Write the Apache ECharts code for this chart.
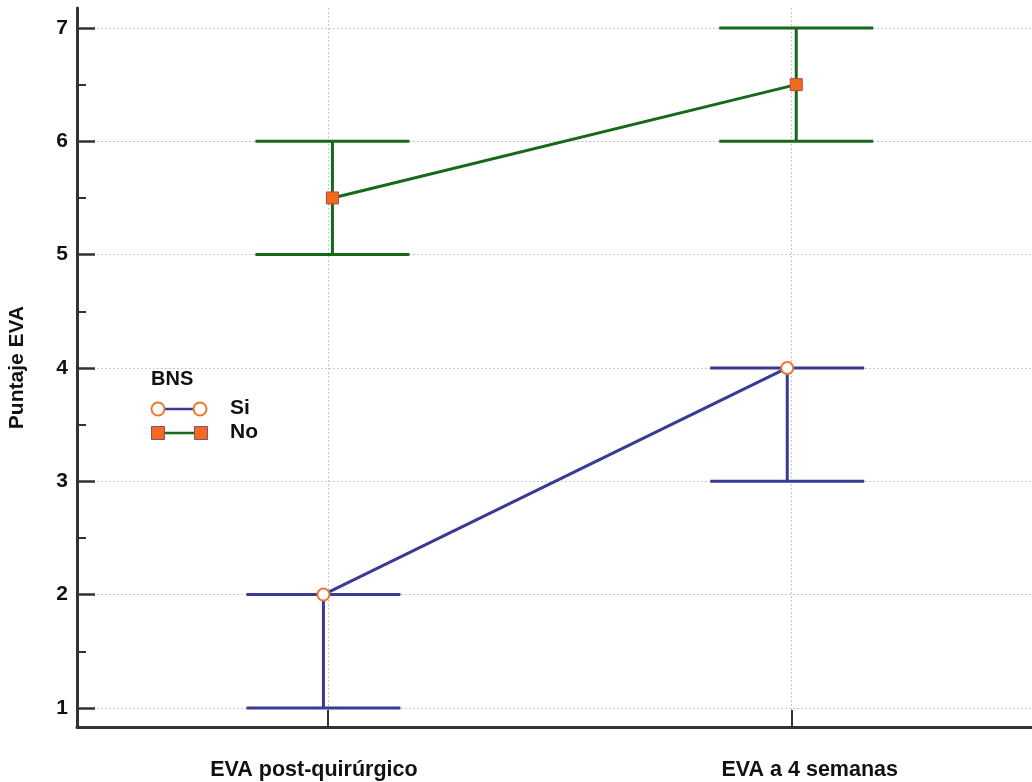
<!DOCTYPE html>
<html>
<head>
<meta charset="utf-8">
<script src="https://cdn.jsdelivr.net/npm/echarts@6/dist/echarts.min.js"></script>
<style>
html,body{margin:0;padding:0;background:#fff;}
#c{width:1032px;height:782px;}
</style>
</head>
<body>
<div id="c"></div>
<script>
// ---- data ----
const categories = ['EVA post-quirúrgico', 'EVA a 4 semanas'];
const seriesNames = ['Si', 'No'];
const siMean = [2, 4];
const siLow = [1, 3];
const siHigh = [2, 4];
const noMean = [5.5, 6.5];
const noLow = [5, 6];
const noHigh = [6, 7];
const yTickValues = [1, 2, 3, 4, 5, 6, 7];
const yMinorTickValues = [1.5, 2.5, 3.5, 4.5, 5.5, 6.5];
const yAxisName = 'Puntaje EVA';
const legendTitle = 'BNS';

// ---- styles ----
const FONT = '"Liberation Sans", Arial, sans-serif';
const SI_COLOR = '#3a3a94';
const NO_COLOR = '#17691a';
const MARK_ORANGE = '#f26a1c';
const AXIS_COLOR = '#333333';
const DODGE = 0.0097;   // horizontal shift of each group (in category units)
const CAP_HALF = 77;    // px

const catIdx = categories.map((_, i) => i);
function pts(means, off) { return catIdx.map(i => [i + off, means[i]]); }
function bars(lows, highs, off) { return catIdx.map(i => [i + off, lows[i], highs[i]]); }

function errRender(color) {
  return function (params, api) {
    const x = api.value(0);
    const lo = api.coord([x, api.value(1)]);
    const hi = api.coord([x, api.value(2)]);
    const st = { stroke: color, lineWidth: 3 };
    return {
      type: 'group',
      children: [
        { type: 'line', shape: { x1: lo[0], y1: lo[1], x2: hi[0], y2: hi[1] }, style: st },
        { type: 'line', shape: { x1: lo[0] - CAP_HALF, y1: lo[1], x2: lo[0] + CAP_HALF, y2: lo[1] }, style: st },
        { type: 'line', shape: { x1: hi[0] - CAP_HALF, y1: hi[1], x2: hi[0] + CAP_HALF, y2: hi[1] }, style: st }
      ]
    };
  };
}

const chart = echarts.init(document.getElementById('c'), null, { renderer: 'canvas' });
const gridDash = { color: '#c8c8c8', width: 1, type: [2, 2] };
const catLabelStyle = { color: '#111', fontWeight: 'bold', fontSize: 21.5, fontFamily: FONT };

chart.setOption({
  animation: false,
  backgroundColor: '#ffffff',
  textStyle: { fontFamily: FONT },
  grid: { left: 77, right: 0, top: 8, bottom: 55, containLabel: false, outerBoundsMode: 'none' },
  xAxis: {
    type: 'value',
    min: -0.541,
    max: 1.518,
    axisLine: { show: true, onZero: false, lineStyle: { color: AXIS_COLOR, width: 3 } },
    axisTick: { show: true, inside: true, length: 17, customValues: catIdx, lineStyle: { color: AXIS_COLOR, width: 2 } },
    axisLabel: {
      show: true, customValues: catIdx, margin: 32,
      formatter: v => {
        const i = Math.round(v);
        return categories[i] ? '{c' + i + '|' + categories[i] + '}' : '';
      },
      rich: {
        c0: Object.assign({ padding: [0, 28, 0, 0] }, catLabelStyle),
        c1: Object.assign({ padding: [0, 0, 0, 36] }, catLabelStyle)
      },
      color: '#111', fontWeight: 'bold', fontSize: 21.5, fontFamily: FONT
    },
    splitLine: { show: true, lineStyle: gridDash }
  },
  yAxis: [
    {
      type: 'value',
      min: 0.832,
      max: 7.176,
      name: yAxisName,
      nameLocation: 'middle',
      nameGap: 49,
      nameRotate: 90,
      nameMoveOverlap: false,
      nameTextStyle: { color: '#111', fontWeight: 'bold', fontSize: 21, fontFamily: FONT },
      axisLine: { show: true, onZero: false, lineStyle: { color: AXIS_COLOR, width: 3 } },
      axisTick: { show: true, inside: true, length: 18, customValues: yTickValues, lineStyle: { color: AXIS_COLOR, width: 2.5 } },
      axisLabel: { show: true, customValues: yTickValues, margin: 9, color: '#111', fontWeight: 'bold', fontSize: 21, fontFamily: FONT },
      splitLine: { show: true, lineStyle: gridDash }
    },
    {
      type: 'value',
      position: 'left',
      min: 0.832,
      max: 7.176,
      axisLine: { show: false, onZero: false },
      axisTick: { show: true, inside: true, length: 9, customValues: yMinorTickValues, lineStyle: { color: AXIS_COLOR, width: 2 } },
      axisLabel: { show: false },
      splitLine: { show: false }
    }
  ],
  series: [
    {
      name: seriesNames[0] + ' IC',
      type: 'custom',
      renderItem: errRender(SI_COLOR),
      data: bars(siLow, siHigh, -DODGE),
      z: 2,
      silent: true
    },
    {
      name: seriesNames[1] + ' IC',
      type: 'custom',
      renderItem: errRender(NO_COLOR),
      data: bars(noLow, noHigh, DODGE),
      z: 2,
      silent: true
    },
    {
      name: seriesNames[0],
      type: 'line',
      data: pts(siMean, -DODGE),
      lineStyle: { color: SI_COLOR, width: 3 },
      symbol: 'circle',
      symbolSize: 12,
      showAllSymbol: true,
      itemStyle: { color: '#ffffff', borderColor: '#e8792e', borderWidth: 2 },
      z: 5
    },
    {
      name: seriesNames[1],
      type: 'line',
      data: pts(noMean, DODGE),
      lineStyle: { color: NO_COLOR, width: 3 },
      symbol: 'rect',
      symbolSize: 12,
      showAllSymbol: true,
      itemStyle: { color: MARK_ORANGE, borderColor: '#b5474a', borderWidth: 1 },
      z: 5
    }
  ],
  graphic: [
    { type: 'text', left: 151, top: 369, style: { text: legendTitle, font: 'bold 20px ' + FONT, fill: '#111' } },
    { type: 'line', shape: { x1: 158, y1: 409, x2: 200, y2: 409 }, style: { stroke: SI_COLOR, lineWidth: 2.5 }, z: 10 },
    { type: 'circle', shape: { cx: 158, cy: 409, r: 6.5 }, style: { fill: '#fff', stroke: '#e8792e', lineWidth: 2 }, z: 11 },
    { type: 'circle', shape: { cx: 200, cy: 409, r: 6.5 }, style: { fill: '#fff', stroke: '#e8792e', lineWidth: 2 }, z: 11 },
    { type: 'text', left: 230, top: 398, style: { text: seriesNames[0], font: 'bold 21px ' + FONT, fill: '#111' } },
    { type: 'line', shape: { x1: 158, y1: 433, x2: 201, y2: 433 }, style: { stroke: NO_COLOR, lineWidth: 2.5 }, z: 10 },
    { type: 'rect', shape: { x: 151.5, y: 426.5, width: 13, height: 13 }, style: { fill: MARK_ORANGE, stroke: '#8a4a8a', lineWidth: 1 }, z: 11 },
    { type: 'rect', shape: { x: 194.5, y: 426.5, width: 13, height: 13 }, style: { fill: MARK_ORANGE, stroke: '#8a4a8a', lineWidth: 1 }, z: 11 },
    { type: 'text', left: 230, top: 422, style: { text: seriesNames[1], font: 'bold 21px ' + FONT, fill: '#111' } }
  ]
});
</script>
</body>
</html>
